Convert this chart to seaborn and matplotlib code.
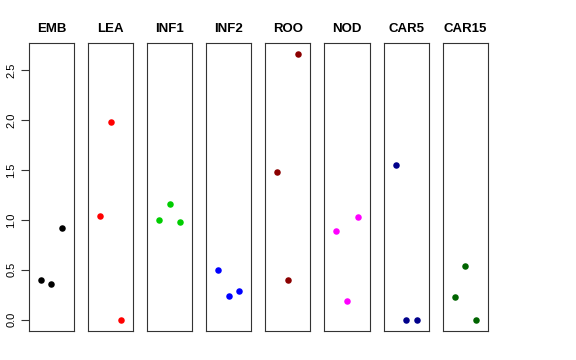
import numpy as np
import pandas as pd
import matplotlib
matplotlib.use("Agg")
import matplotlib.pyplot as plt
import seaborn as sns

tissues = ['EMB', 'LEA', 'INF1', 'INF2', 'ROO', 'NOD', 'CAR5', 'CAR15']
colors = ['black', 'red', '#00CD00', 'blue', '#8B0000', 'magenta', '#00008B', '#006400']
positions = [1, 2, 3]

emb = [0.40, 0.36, 0.92]
lea = [1.04, 1.98, 0.00]
inf1 = [1.00, 1.16, 0.98]
inf2 = [0.50, 0.24, 0.29]
roo = [1.48, 0.40, 2.66]
nod = [0.89, 0.19, 1.03]
car5 = [1.55, 0.00, 0.00]
car15 = [0.23, 0.54, 0.00]

values = [emb, lea, inf1, inf2, roo, nod, car5, car15]

sns.set_style("white")
plt.rcParams['font.family'] = ['Liberation Sans', 'DejaVu Sans']
plt.rcParams['text.color'] = 'black'
plt.rcParams['axes.labelcolor'] = 'black'
plt.rcParams['ytick.color'] = 'black'

fig, axes = plt.subplots(1, 8, figsize=(5.76, 3.6), dpi=100, sharey=True)
fig.subplots_adjust(left=0.050, right=0.847, bottom=0.081, top=0.881, wspace=0.31)

for i, ax in enumerate(axes):
    df = pd.DataFrame({'pos': positions, 'val': values[i]})
    sns.scatterplot(data=df, x='pos', y='val', ax=ax, color=colors[i], s=22, linewidth=0, legend=False)
    ax.set_xlim(-0.14, 4.14)
    ax.set_ylim(-0.11, 2.77)
    ax.set_title(tissues[i], fontsize=9.5, fontweight='bold', pad=8, color='black')
    ax.set_xticks([])
    ax.set_xlabel('')
    ax.set_ylabel('')
    for sp in ax.spines.values():
        sp.set_color('#333333')
        sp.set_linewidth(0.8)
    if i == 0:
        ax.set_yticks([0.0, 0.5, 1.0, 1.5, 2.0, 2.5])
        ax.set_yticklabels(['0.0', '0.5', '1.0', '1.5', '2.0', '2.5'], rotation=90, va='center', fontsize=8)
        ax.tick_params(axis='y', left=True, length=6, width=0.8, color='#333333', labelcolor='black', pad=3)
    else:
        ax.tick_params(axis='y', left=False, labelleft=False)

plt.savefig('out.png', dpi=100)
